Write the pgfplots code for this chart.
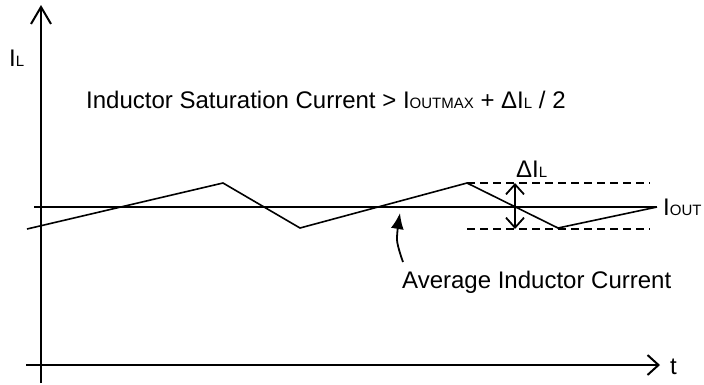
\documentclass[border=0pt]{standalone}
\usepackage{pgfplots}
\pgfplotsset{compat=1.18}
\usepackage{fontspec}
\setmainfont{Liberation Sans}
\usetikzlibrary{arrows.meta}
\newcommand{\sub}[1]{{\fontsize{15}{15}\selectfont #1}}
\newcommand{\txt}{\fontsize{24}{27}\selectfont}

\begin{document}
\begin{tikzpicture}
\begin{axis}[
  width=704pt, height=383pt, scale only axis,
  xmin=0, xmax=704, ymin=0, ymax=383, y dir=reverse,
  hide axis, clip=false,
]
\path (rel axis cs:0,0) rectangle (rel axis cs:1,1);
% axes
\addplot[line width=2pt, -{Straight Barb[length=17pt,width=20pt,line width=2pt]}] coordinates {(41,383) (41,5)};
\addplot[line width=2pt, -{Straight Barb[length=11pt,width=20pt,line width=2pt]}] coordinates {(26,365) (660,365)};
% average line
\addplot[line width=1.6pt] coordinates {(34,207) (657,207)};
% inductor current waveform
\addplot[line width=1.6pt] coordinates {(27,229) (223,183) (300,228) (467,183) (558,228) (657,207)};
% dashed ripple bounds
\addplot[line width=1.5pt, dash pattern=on 8pt off 5pt] coordinates {(467,183) (650,183)};
\addplot[line width=1.5pt, dash pattern=on 8pt off 5pt] coordinates {(467,229) (650,229)};
% ripple double arrow
\addplot[line width=1.8pt, {Straight Barb[length=10pt,width=18pt,line width=1.8pt]}-{Straight Barb[length=10pt,width=18pt,line width=1.8pt]}] coordinates {(515,183) (515,229)};
% curved arrow
\addplot[line width=1.8pt, smooth, -{Latex[length=16pt,width=13pt]}] coordinates {(403,262) (397,240) (400,213)};

\node[anchor=base west, inner sep=0pt] at (axis cs:9,66) {\txt I\sub{L}};
\node[anchor=base west, inner sep=0pt] at (axis cs:86,108) {\txt Inductor Saturation Current > I\sub{OUTMAX} + ΔI\sub{L} / 2};
\node[anchor=base west, inner sep=0pt] at (axis cs:516,177) {\txt ΔI\sub{L}};
\node[anchor=base west, inner sep=0pt] at (axis cs:663,215) {\txt I\sub{OUT}};
\node[anchor=base west, inner sep=0pt] at (axis cs:402,288) {\txt Average Inductor Current};
\node[anchor=base west, inner sep=0pt] at (axis cs:670,374) {\txt t};
\end{axis}
\end{tikzpicture}
\end{document}
